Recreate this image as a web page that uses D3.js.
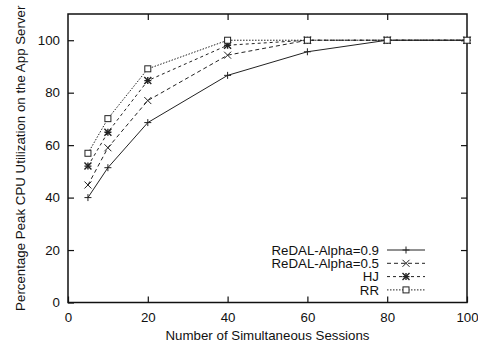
<!DOCTYPE html>
<html>
<head>
<meta charset="utf-8">
<script src="https://cdn.jsdelivr.net/npm/d3@7"></script>
<style>
  body { margin: 0; background: #fff; }
  svg text { font-family: "Liberation Sans", Arial, sans-serif; fill: #111; }
</style>
</head>
<body>
<div id="chart-div"></div>
<script>
const WIDTH = 478, HEIGHT = 348;
const MARGIN = { top: 14, right: 11, bottom: 45.5, left: 68 };
const FONT = 13.3;

// data
const sessions = [5, 10, 20, 40, 60, 80, 100];
const redal09 = [40, 51.4, 68.6, 86.6, 95.6, 100, 100];
const redal05 = [44.8, 59, 77, 94.3, 100, 100, 100];
const hj = [52, 64.9, 84.6, 98.1, 100, 100, 100];
const rr = [56.9, 70.1, 89.1, 100, 100, 100, 100];

const xTicks = [0, 20, 40, 60, 80, 100];
const yTicks = [0, 20, 40, 60, 80, 100];

const seriesNames = ['ReDAL-Alpha=0.9', 'ReDAL-Alpha=0.5', 'HJ', 'RR'];
const seriesValues = [redal09, redal05, hj, rr];
const dashes = ['none', '4,3', '3,3', '1.5,1.5'];
const markers = ['plus', 'cross', 'star', 'square'];

const svg = d3.select('#chart-div')
  .append('svg')
  .attr('width', WIDTH)
  .attr('height', HEIGHT);

const xScale = d3.scaleLinear()
  .domain([0, 100])
  .range([MARGIN.left, WIDTH - MARGIN.right]);

const yScale = d3.scaleLinear()
  .domain([0, 110])
  .range([HEIGHT - MARGIN.bottom, MARGIN.top]);

// axes, gnuplot style: inner ticks mirrored on all sides
const TICK = 6;
const bottomAxis = svg.append('g')
  .attr('transform', `translate(0,${yScale(0)})`)
  .call(d3.axisBottom(xScale).tickValues(xTicks).tickSizeInner(-TICK).tickSizeOuter(0).tickPadding(10));
const topAxis = svg.append('g')
  .attr('transform', `translate(0,${yScale(110)})`)
  .call(d3.axisTop(xScale).tickValues(xTicks.slice(1, -1)).tickSizeInner(-TICK).tickSizeOuter(0).tickFormat(''));
const leftAxis = svg.append('g')
  .attr('transform', `translate(${xScale(0)},0)`)
  .call(d3.axisLeft(yScale).tickValues(yTicks).tickSizeInner(-TICK).tickSizeOuter(0).tickPadding(8));
const rightAxis = svg.append('g')
  .attr('transform', `translate(${xScale(100)},0)`)
  .call(d3.axisRight(yScale).tickValues(yTicks.slice(1)).tickSizeInner(-TICK).tickSizeOuter(0).tickFormat(''));

[bottomAxis, topAxis, leftAxis, rightAxis].forEach(a => {
  a.select('.domain').remove();
  a.selectAll('line').attr('stroke', '#111').attr('stroke-width', 1.2);
  a.selectAll('text').attr('font-size', FONT).attr('fill', '#111')
    .style('font-family', '"Liberation Sans", Arial, sans-serif');
});

svg.append('rect')
  .attr('x', xScale(0))
  .attr('y', yScale(110))
  .attr('width', xScale(100) - xScale(0))
  .attr('height', yScale(0) - yScale(110))
  .attr('fill', 'none')
  .attr('stroke', '#111')
  .attr('stroke-width', 1.5);

// axis titles
svg.append('text')
  .attr('x', (xScale(0) + xScale(100)) / 2)
  .attr('y', 340)
  .attr('text-anchor', 'middle')
  .attr('font-size', FONT)
  .text('Number of Simultaneous Sessions');

svg.append('text')
  .attr('transform', `translate(25,${(yScale(0) + yScale(110)) / 2}) rotate(-90)`)
  .attr('text-anchor', 'middle')
  .attr('font-size', FONT)
  .text('Percentage Peak CPU Utilization on the App Server');

function drawMarker(g, type, x, y) {
  const s = type === 'square' ? 3 : 3.5;
  const m = g.append('g').attr('transform', `translate(${x},${y})`)
    .attr('stroke', '#222').attr('stroke-width', 1).attr('fill', 'none');
  if (type === 'plus' || type === 'star') {
    m.append('path').attr('d', `M${-s},0H${s}M0,${-s}V${s}`);
  }
  if (type === 'cross' || type === 'star') {
    m.append('path').attr('d', `M${-s},${-s}L${s},${s}M${-s},${s}L${s},${-s}`);
  }
  if (type === 'star') {
    m.attr('stroke-width', 1.4);
  }
  if (type === 'square') {
    m.append('rect').attr('x', -s).attr('y', -s).attr('width', 2 * s).attr('height', 2 * s)
      .attr('fill', '#fff');
  }
}

const line = d3.line()
  .x((d, i) => xScale(sessions[i]))
  .y(d => yScale(d));

const plot = svg.append('g');
seriesValues.forEach((vals, k) => {
  plot.append('path')
    .datum(vals)
    .attr('d', line)
    .attr('fill', 'none')
    .attr('stroke', '#222')
    .attr('stroke-width', 1)
    .attr('stroke-dasharray', dashes[k]);
});
seriesValues.forEach((vals, k) => {
  vals.forEach((v, i) => drawMarker(plot, markers[k], xScale(sessions[i]), yScale(v)));
});

// legend
const legend = svg.append('g');
seriesNames.forEach((name, k) => {
  const y = 250 + k * 13.3;
  legend.append('text')
    .attr('x', 379)
    .attr('y', y)
    .attr('dy', '0.35em')
    .attr('text-anchor', 'end')
    .attr('font-size', FONT)
    .text(name);
  legend.append('line')
    .attr('x1', 387).attr('x2', 425)
    .attr('y1', y).attr('y2', y)
    .attr('stroke', '#222')
    .attr('stroke-width', 1)
    .attr('stroke-dasharray', dashes[k]);
  drawMarker(legend, markers[k], 406, y);
});
</script>
</body>
</html>
